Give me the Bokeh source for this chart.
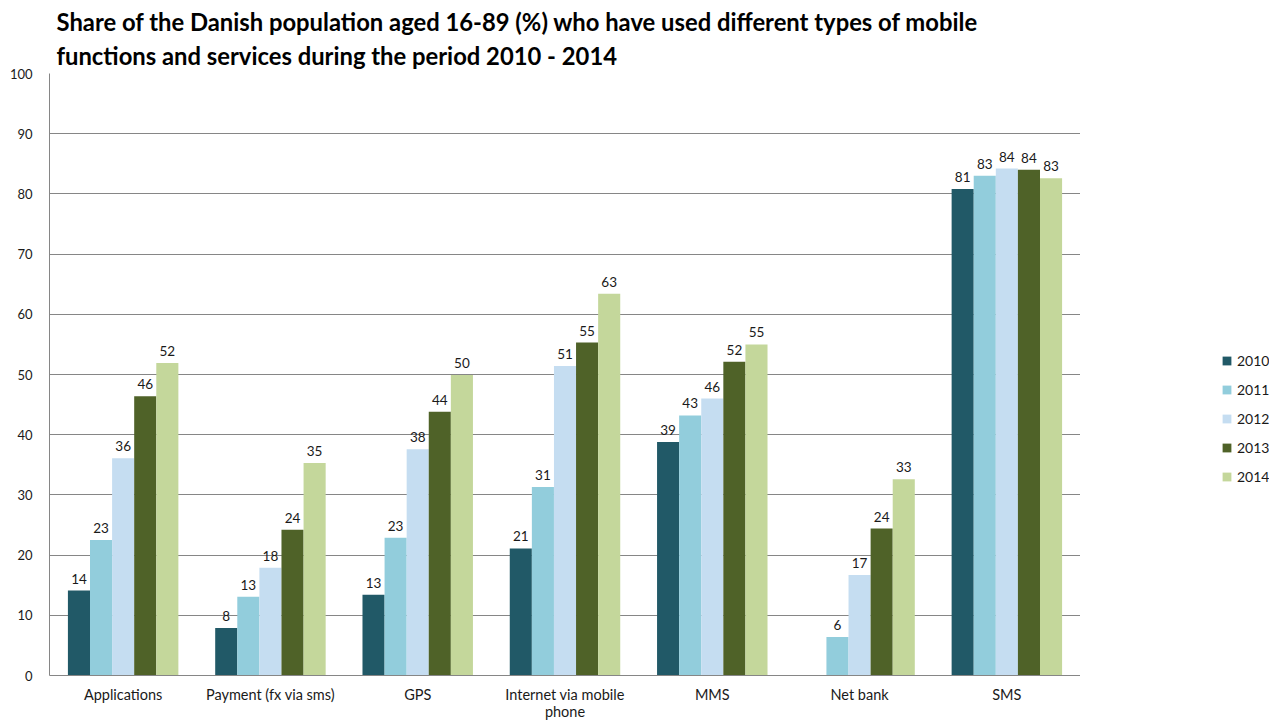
from bokeh.plotting import figure
from bokeh.layouts import row
from bokeh.models import (ColumnDataSource, FixedTicker, Legend, LegendItem, Title, LabelSet)
from bokeh.core.properties import value
from bokeh.embed import file_html
from bokeh.resources import INLINE
import math

categories = ["Applications", "Payment (fx via sms)", "GPS", "Internet via mobile phone",
              "MMS", "Net bank", "SMS"]
tick_labels = ["Applications", "Payment (fx via sms)", "GPS", "Internet via mobile\nphone",
               "MMS", "Net bank", "SMS"]
years = ["2010", "2011", "2012", "2013", "2014"]
v2010 = [14.1, 7.9, 13.4, 21.1, 38.8, float("nan"), 80.8]
v2011 = [22.5, 13.1, 22.9, 31.3, 43.2, 6.4, 83.0]
v2012 = [36.1, 17.9, 37.6, 51.4, 46.0, 16.7, 84.2]
v2013 = [46.4, 24.2, 43.8, 55.3, 52.1, 24.4, 84.0]
v2014 = [51.9, 35.3, 49.9, 63.4, 55.0, 32.6, 82.6]
series = [v2010, v2011, v2012, v2013, v2014]
colors = ["#215967", "#92CDDC", "#C5DDF1", "#4F6228", "#C4D79B"]

FONT = "Lato"

p = figure(width=1080, height=722, output_backend="svg", toolbar_location=None,
           x_range=(-0.5, len(categories) - 0.5), y_range=(0, 100), title=None,
           min_border_left=49, min_border_right=0, min_border_top=73, min_border_bottom=46)
p.outline_line_color = None
p.background_fill_color = "white"
p.border_fill_color = "white"

bar_w = 0.15
offsets = [-0.3, -0.15, 0.0, 0.15, 0.3]
for yr, vals, col, off in zip(years, series, colors, offsets):
    xs = [i + off for i in range(len(categories))]
    labs = ["" if (v != v) else str(int(math.floor(v + 0.5))) for v in vals]
    src = ColumnDataSource(dict(x=xs, top=vals, lab=labs))
    p.vbar(x="x", top="top", width=bar_w, bottom=0, fill_color=col, line_color=None, source=src)
    ls = LabelSet(x="x", y="top", text="lab", source=src, text_align="center",
                  text_baseline="bottom", y_offset=7, text_font=value(FONT),
                  text_font_size="13.5px", text_color="#1a1a1a")
    p.add_layout(ls)

# axes
p.yaxis.ticker = FixedTicker(ticks=list(range(0, 101, 10)))
p.yaxis.major_tick_line_color = None
p.yaxis.minor_tick_line_color = None
p.yaxis.axis_line_color = "#868686"
p.yaxis.major_label_standoff = 11
p.yaxis.major_label_text_font = FONT
p.yaxis.major_label_text_font_size = "13px"
p.yaxis.major_label_text_color = "#1a1a1a"

p.xaxis.ticker = FixedTicker(ticks=list(range(len(categories))))
p.xaxis.major_label_overrides = {i: t for i, t in enumerate(tick_labels)}
p.xaxis.major_tick_line_color = None
p.xaxis.minor_tick_line_color = None
p.xaxis.axis_line_color = "#868686"
p.xaxis.major_label_standoff = 4
p.xaxis.major_label_text_font = FONT
p.xaxis.major_label_text_font_size = "14.5px"
p.xaxis.major_label_text_line_height = 1.0
p.xaxis.major_label_text_color = "#1a1a1a"

p.xgrid.grid_line_color = None
p.ygrid.grid_line_color = "#868686"
p.ygrid.grid_line_width = 1

# titles
t2 = Title(text="functions and services during the period 2010 - 2014", align="left",
           offset=7, text_font=FONT, text_font_size="23.8px", text_font_style="bold",
           text_color="black", standoff=8, text_line_height=0.85)
t1 = Title(text="Share of the Danish population aged 16-89 (%) who have used different types of mobile",
           align="left", offset=7, text_font=FONT, text_font_size="23.8px", text_font_style="bold",
           text_color="black", standoff=0)
p.add_layout(t2, "above")
p.add_layout(t1, "above")

# legend panel
lg = figure(width=189, height=722, output_backend="svg", toolbar_location=None,
            x_range=(0, 1), y_range=(0, 1), title=None,
            min_border_left=0, min_border_right=0, min_border_top=0, min_border_bottom=0)
lg.axis.visible = False
lg.grid.visible = False
lg.outline_line_color = None
lg.background_fill_color = "white"
lg.border_fill_color = "white"
items = []
for yr, col in zip(years, colors):
    # off-range dummy bar so that the legend swatch is drawn
    r = lg.vbar(x=[5], top=[5], bottom=[4], width=0.1, fill_color=col, line_color=None)
    items.append(LegendItem(label=yr, renderers=[r]))
legend = Legend(items=items, location=(141, 189), orientation="vertical",
                glyph_width=11, glyph_height=11, label_height=20, spacing=9,
                label_standoff=5, padding=0, margin=0, border_line_color=None,
                background_fill_alpha=0, label_text_font=FONT, label_text_font_size="14px",
                label_text_color="#1a1a1a")
lg.add_layout(legend, "center")

layout = row(p, lg, spacing=0)
open("out.html", "w").write(file_html(layout, INLINE))
